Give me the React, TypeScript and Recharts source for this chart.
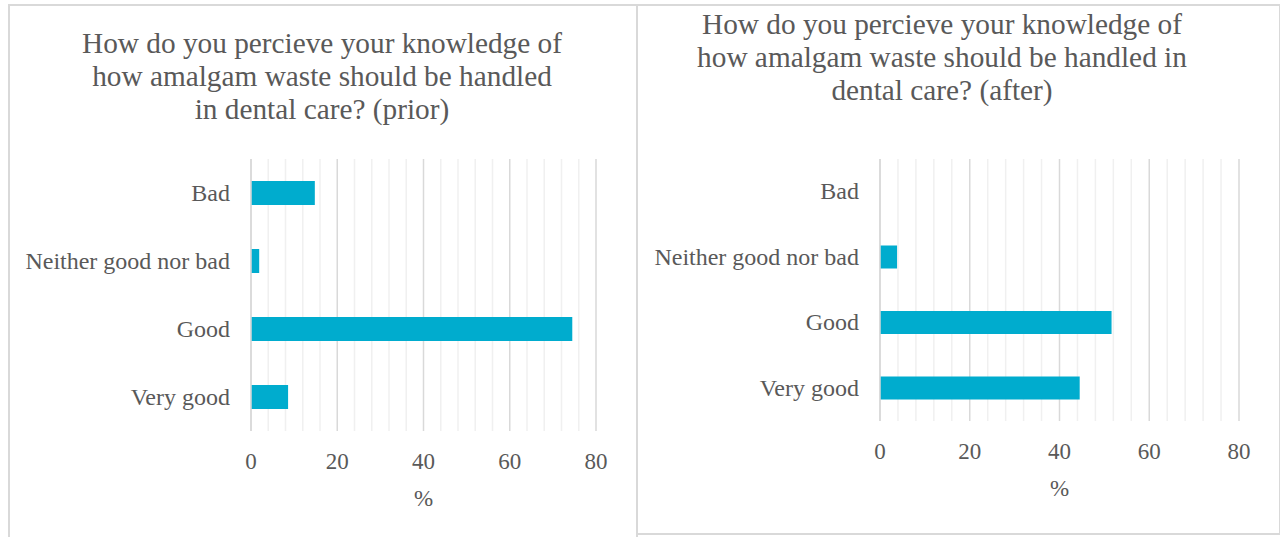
import React from 'react';
import { BarChart, Bar, XAxis, YAxis, CartesianGrid, Label } from 'recharts';

// Survey answers, top to bottom
const categories = ['Bad', 'Neither good nor bad', 'Good', 'Very good'];
const priorValues = [14.8, 1.9, 74.5, 8.6];
const afterValues = [0, 3.8, 51.6, 44.5];

// Value axis ticks: labelled majors and unlabelled minor gridlines
const majorTicks = [0, 20, 40, 60, 80];
const minorTicks = [4, 8, 12, 16, 24, 28, 32, 36, 44, 48, 52, 56, 64, 68, 72, 76];

const priorTitle = [
  'How do you percieve your knowledge of',
  'how amalgam waste should be handled',
  'in dental care? (prior)',
];
const afterTitle = [
  'How do you percieve your knowledge of',
  'how amalgam waste should be handled in',
  'dental care? (after)',
];

const FONT = '"Liberation Serif", "Times New Roman", serif';
const TEXT = '#595959';
const BAR = '#00ACCE';

const toRows = (values: number[]) =>
  categories.map((label, i) => ({ label, value: values[i] }));

const CategoryTick = (props: any) => {
  const { x, y, payload } = props;
  return (
    <text x={x - 21} y={y + 7.5} textAnchor="end" fill={TEXT} fontFamily={FONT} fontSize={24}>
      {payload.value}
    </text>
  );
};

const ValueTick = (props: any) => {
  const { x, y, payload } = props;
  return (
    <text x={x} y={y + 38} textAnchor="middle" fill={TEXT} fontFamily={FONT} fontSize={23}>
      {payload.value}
    </text>
  );
};

const PercentLabel = (props: any) => {
  const { viewBox } = props;
  const cx = viewBox.x + viewBox.width / 2;
  return (
    <text x={cx} y={viewBox.y + 75} textAnchor="middle" fill={TEXT} fontFamily={FONT} fontSize={23}>
      %
    </text>
  );
};

type PanelProps = {
  values: number[];
  width: number;
  axisWidth: number;
  right: number;
  bottom: number;
  barSize: number;
};

const Panel = ({ values, width, axisWidth, right, bottom, barSize }: PanelProps) => (
  <BarChart
    width={width}
    height={537}
    layout="vertical"
    data={toRows(values)}
    margin={{ top: 159, right, bottom, left: 0 }}
  >
    <CartesianGrid horizontal={false} stroke="#F0F0F0" strokeWidth={1.5} verticalValues={minorTicks} />
    <CartesianGrid horizontal={false} stroke="#D9D9D9" strokeWidth={1.5} verticalValues={majorTicks} />
    <XAxis
      type="number"
      domain={[0, 80]}
      ticks={majorTicks}
      axisLine={false}
      tickLine={false}
      tickSize={0}
      tickMargin={0}
      height={60}
      tick={<ValueTick />}
      interval={0}
    >
      <Label content={<PercentLabel />} position="bottom" />
    </XAxis>
    <YAxis
      type="category"
      dataKey="label"
      width={axisWidth}
      axisLine={{ stroke: '#D9D9D9', strokeWidth: 1.5 }}
      tickLine={false}
      tickSize={0}
      tickMargin={0}
      tick={<CategoryTick />}
      interval={0}
    />
    <Bar dataKey="value" fill={BAR} barSize={barSize} isAnimationActive={false} />
  </BarChart>
);

const Title = ({ lines, left, top }: { lines: string[]; left: number; top: number }) => (
  <div
    style={{
      position: 'absolute',
      left,
      top,
      width: 600,
      textAlign: 'center',
      fontFamily: FONT,
      fontSize: 29.3,
      lineHeight: '32.8px',
      color: TEXT,
    }}
  >
    {lines.map((l) => (
      <div key={l}>{l}</div>
    ))}
  </div>
);

const line = (style: React.CSSProperties) => (
  <div style={{ position: 'absolute', background: '#D9D9D9', ...style }} />
);

export default function App() {
  return (
    <div style={{ position: 'absolute', left: 0, top: 0, width: 1280, height: 537, background: '#fff', overflow: 'hidden' }}>
      {line({ left: 8, top: 4, width: 1272, height: 2 })}
      {line({ left: 8, top: 4, width: 2, height: 533 })}
      {line({ left: 636, top: 4, width: 2, height: 533 })}
      {line({ left: 636, top: 533, width: 644, height: 2 })}
      {line({ left: 1279, top: 4, width: 1, height: 531 })}

      <div style={{ position: 'absolute', left: 0, top: 0 }}>
        <Panel values={priorValues} width={640} axisWidth={251} right={44} bottom={46} barSize={24} />
      </div>
      <div style={{ position: 'absolute', left: 637, top: 0 }}>
        <Panel values={afterValues} width={643} axisWidth={243} right={41} bottom={56} barSize={23} />
      </div>

      <Title lines={priorTitle} left={22} top={27} />
      <Title lines={afterTitle} left={642} top={8} />
    </div>
  );
}
